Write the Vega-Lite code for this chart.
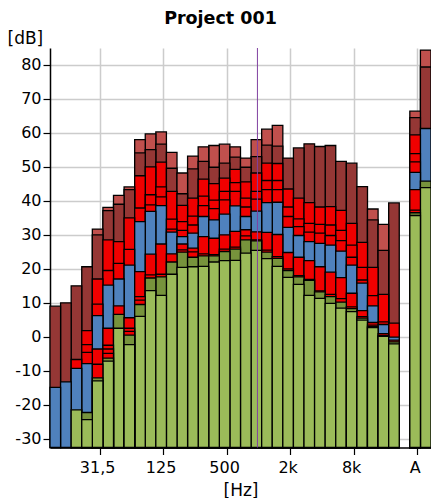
{
  "$schema": "https://vega.github.io/schema/vega-lite/v6.json",
  "width": 381,
  "height": 399.5,
  "autosize": {"type": "none"},
  "padding": {"left": 50, "top": 48, "right": 0, "bottom": 50.5},
  "background": "white",
  "title": {"text": "Project 001", "font": "DejaVu Sans", "fontSize": 17.5, "fontWeight": "bold", "color": "black", "anchor": "middle", "frame": "group", "dx": -20, "dy": 18, "baseline": "alphabetic", "offset": 6},
  "config": {"view": {"stroke": null}, "font": "DejaVu Sans"},
  "datasets": {
    "levels": [
      {"f": "12.5", "c": "D", "v": 9.0}, {"f": "12.5", "c": "B", "v": -14.9},
      {"f": "16", "c": "D", "v": 10.0}, {"f": "16", "c": "B", "v": -13.3},
      {"f": "20", "c": "D", "v": 15.0}, {"f": "20", "c": "R", "v": -6.7}, {"f": "20", "c": "B", "v": -9.3}, {"f": "20", "c": "G", "v": -21.5},
      {"f": "25", "c": "D", "v": 20.6}, {"f": "25", "c": "R", "v": 1.8}, {"f": "25", "c": "R", "v": -2.3}, {"f": "25", "c": "R", "v": -4.6}, {"f": "25", "c": "B", "v": -7.9}, {"f": "25", "c": "O", "v": -22.3}, {"f": "25", "c": "G", "v": -24.4},
      {"f": "31,5", "c": "S", "v": 31.7}, {"f": "31,5", "c": "D", "v": 30.0}, {"f": "31,5", "c": "R", "v": 17.0}, {"f": "31,5", "c": "R", "v": 9.6}, {"f": "31,5", "c": "B", "v": 6.2}, {"f": "31,5", "c": "R", "v": -3.6}, {"f": "31,5", "c": "R", "v": -8.1}, {"f": "31,5", "c": "O", "v": -12.1}, {"f": "31,5", "c": "G", "v": -13.0},
      {"f": "40", "c": "S", "v": 38.1}, {"f": "40", "c": "D", "v": 37.1}, {"f": "40", "c": "R", "v": 28.5}, {"f": "40", "c": "R", "v": 19.5}, {"f": "40", "c": "B", "v": 15.2}, {"f": "40", "c": "R", "v": 2.5}, {"f": "40", "c": "R", "v": -2.5}, {"f": "40", "c": "R", "v": -3.6}, {"f": "40", "c": "R", "v": -4.9}, {"f": "40", "c": "O", "v": -6.3}, {"f": "40", "c": "G", "v": -7.2},
      {"f": "50", "c": "S", "v": 41.6}, {"f": "50", "c": "D", "v": 39.0}, {"f": "50", "c": "R", "v": 28.0}, {"f": "50", "c": "R", "v": 21.6}, {"f": "50", "c": "B", "v": 17.0}, {"f": "50", "c": "R", "v": 9.1}, {"f": "50", "c": "O", "v": 6.6}, {"f": "50", "c": "G", "v": 2.5},
      {"f": "63", "c": "S", "v": 44.1}, {"f": "63", "c": "D", "v": 43.3}, {"f": "63", "c": "R", "v": 35.0}, {"f": "63", "c": "R", "v": 25.7}, {"f": "63", "c": "B", "v": 21.1}, {"f": "63", "c": "R", "v": 5.6}, {"f": "63", "c": "R", "v": 2.5}, {"f": "63", "c": "R", "v": 1.6}, {"f": "63", "c": "O", "v": 0.5}, {"f": "63", "c": "G", "v": -2.3},
      {"f": "80", "c": "S", "v": 58.0}, {"f": "80", "c": "D", "v": 54.1}, {"f": "80", "c": "R", "v": 47.4}, {"f": "80", "c": "R", "v": 37.9}, {"f": "80", "c": "B", "v": 33.9}, {"f": "80", "c": "R", "v": 19.2}, {"f": "80", "c": "R", "v": 11.8}, {"f": "80", "c": "R", "v": 10.8}, {"f": "80", "c": "O", "v": 9.5}, {"f": "80", "c": "G", "v": 6.0},
      {"f": "100", "c": "S", "v": 59.7}, {"f": "100", "c": "D", "v": 55.1}, {"f": "100", "c": "R", "v": 50.0}, {"f": "100", "c": "R", "v": 41.8}, {"f": "100", "c": "R", "v": 38.8}, {"f": "100", "c": "B", "v": 36.9}, {"f": "100", "c": "R", "v": 24.3}, {"f": "100", "c": "R", "v": 18.2}, {"f": "100", "c": "O", "v": 17.3}, {"f": "100", "c": "G", "v": 13.6},
      {"f": "125", "c": "S", "v": 60.3}, {"f": "125", "c": "D", "v": 56.7}, {"f": "125", "c": "R", "v": 51.4}, {"f": "125", "c": "R", "v": 44.1}, {"f": "125", "c": "R", "v": 41.2}, {"f": "125", "c": "B", "v": 38.6}, {"f": "125", "c": "R", "v": 27.3}, {"f": "125", "c": "R", "v": 18.4}, {"f": "125", "c": "O", "v": 17.6}, {"f": "125", "c": "G", "v": 12.2},
      {"f": "160", "c": "S", "v": 54.3}, {"f": "160", "c": "D", "v": 49.6}, {"f": "160", "c": "R", "v": 42.8}, {"f": "160", "c": "R", "v": 34.6}, {"f": "160", "c": "R", "v": 31.7}, {"f": "160", "c": "B", "v": 30.8}, {"f": "160", "c": "R", "v": 24.4}, {"f": "160", "c": "O", "v": 22.0}, {"f": "160", "c": "G", "v": 18.4},
      {"f": "200", "c": "S", "v": 48.2}, {"f": "200", "c": "D", "v": 42.1}, {"f": "200", "c": "R", "v": 38.7}, {"f": "200", "c": "R", "v": 33.9}, {"f": "200", "c": "R", "v": 31.3}, {"f": "200", "c": "B", "v": 29.5}, {"f": "200", "c": "R", "v": 27.3}, {"f": "200", "c": "R", "v": 25.6}, {"f": "200", "c": "O", "v": 24.9}, {"f": "200", "c": "G", "v": 20.4},
      {"f": "250", "c": "S", "v": 53.2}, {"f": "250", "c": "D", "v": 49.4}, {"f": "250", "c": "R", "v": 40.8}, {"f": "250", "c": "R", "v": 35.5}, {"f": "250", "c": "R", "v": 32.9}, {"f": "250", "c": "B", "v": 30.5}, {"f": "250", "c": "R", "v": 26.1}, {"f": "250", "c": "R", "v": 25.0}, {"f": "250", "c": "O", "v": 23.4}, {"f": "250", "c": "G", "v": 20.6},
      {"f": "315", "c": "S", "v": 55.9}, {"f": "315", "c": "D", "v": 51.6}, {"f": "315", "c": "R", "v": 46.4}, {"f": "315", "c": "R", "v": 41.4}, {"f": "315", "c": "R", "v": 38.6}, {"f": "315", "c": "B", "v": 35.4}, {"f": "315", "c": "R", "v": 29.5}, {"f": "315", "c": "R", "v": 24.4}, {"f": "315", "c": "O", "v": 23.8}, {"f": "315", "c": "G", "v": 20.7},
      {"f": "400", "c": "S", "v": 56.3}, {"f": "400", "c": "D", "v": 49.9}, {"f": "400", "c": "R", "v": 45.1}, {"f": "400", "c": "R", "v": 40.2}, {"f": "400", "c": "R", "v": 37.7}, {"f": "400", "c": "B", "v": 34.4}, {"f": "400", "c": "R", "v": 29.0}, {"f": "400", "c": "R", "v": 24.2}, {"f": "400", "c": "O", "v": 23.8}, {"f": "400", "c": "G", "v": 22.0},
      {"f": "500", "c": "S", "v": 56.7}, {"f": "500", "c": "D", "v": 51.1}, {"f": "500", "c": "R", "v": 46.7}, {"f": "500", "c": "R", "v": 42.8}, {"f": "500", "c": "R", "v": 40.3}, {"f": "500", "c": "B", "v": 36.1}, {"f": "500", "c": "R", "v": 30.0}, {"f": "500", "c": "R", "v": 25.8}, {"f": "500", "c": "O", "v": 25.1}, {"f": "500", "c": "G", "v": 22.4},
      {"f": "630", "c": "S", "v": 55.9}, {"f": "630", "c": "D", "v": 52.9}, {"f": "630", "c": "R", "v": 49.3}, {"f": "630", "c": "R", "v": 45.4}, {"f": "630", "c": "R", "v": 42.8}, {"f": "630", "c": "B", "v": 38.5}, {"f": "630", "c": "R", "v": 31.0}, {"f": "630", "c": "R", "v": 26.4}, {"f": "630", "c": "O", "v": 25.8}, {"f": "630", "c": "G", "v": 22.5},
      {"f": "800", "c": "S", "v": 52.6}, {"f": "800", "c": "D", "v": 49.9}, {"f": "800", "c": "R", "v": 45.6}, {"f": "800", "c": "R", "v": 40.8}, {"f": "800", "c": "R", "v": 38.2}, {"f": "800", "c": "B", "v": 35.4}, {"f": "800", "c": "R", "v": 31.5}, {"f": "800", "c": "R", "v": 29.7}, {"f": "800", "c": "O", "v": 28.5}, {"f": "800", "c": "G", "v": 24.6},
      {"f": "1k", "c": "S", "v": 58.0}, {"f": "1k", "c": "D", "v": 53.0}, {"f": "1k", "c": "R", "v": 48.2}, {"f": "1k", "c": "R", "v": 42.8}, {"f": "1k", "c": "R", "v": 40.5}, {"f": "1k", "c": "B", "v": 37.0}, {"f": "1k", "c": "R", "v": 30.9}, {"f": "1k", "c": "R", "v": 28.5}, {"f": "1k", "c": "O", "v": 28.2}, {"f": "1k", "c": "G", "v": 25.4},
      {"f": "1.25k", "c": "S", "v": 61.1}, {"f": "1.25k", "c": "D", "v": 56.4}, {"f": "1.25k", "c": "R", "v": 51.1}, {"f": "1.25k", "c": "R", "v": 46.0}, {"f": "1.25k", "c": "R", "v": 43.3}, {"f": "1.25k", "c": "B", "v": 39.5}, {"f": "1.25k", "c": "R", "v": 30.7}, {"f": "1.25k", "c": "R", "v": 25.5}, {"f": "1.25k", "c": "O", "v": 24.9}, {"f": "1.25k", "c": "G", "v": 23.0},
      {"f": "1.6k", "c": "S", "v": 62.2}, {"f": "1.6k", "c": "D", "v": 56.1}, {"f": "1.6k", "c": "R", "v": 51.0}, {"f": "1.6k", "c": "R", "v": 46.0}, {"f": "1.6k", "c": "R", "v": 43.3}, {"f": "1.6k", "c": "B", "v": 39.6}, {"f": "1.6k", "c": "R", "v": 30.1}, {"f": "1.6k", "c": "R", "v": 23.6}, {"f": "1.6k", "c": "O", "v": 23.1}, {"f": "1.6k", "c": "G", "v": 20.7},
      {"f": "2k", "c": "D", "v": 52.6}, {"f": "2k", "c": "R", "v": 43.5}, {"f": "2k", "c": "R", "v": 38.2}, {"f": "2k", "c": "R", "v": 35.4}, {"f": "2k", "c": "B", "v": 32.2}, {"f": "2k", "c": "R", "v": 24.8}, {"f": "2k", "c": "R", "v": 20.0}, {"f": "2k", "c": "O", "v": 19.5}, {"f": "2k", "c": "G", "v": 17.5},
      {"f": "2.5k", "c": "D", "v": 55.6}, {"f": "2.5k", "c": "R", "v": 40.8}, {"f": "2.5k", "c": "R", "v": 34.7}, {"f": "2.5k", "c": "R", "v": 32.4}, {"f": "2.5k", "c": "B", "v": 29.8}, {"f": "2.5k", "c": "R", "v": 23.4}, {"f": "2.5k", "c": "R", "v": 18.0}, {"f": "2.5k", "c": "O", "v": 17.6}, {"f": "2.5k", "c": "G", "v": 15.4},
      {"f": "3.15k", "c": "D", "v": 56.8}, {"f": "3.15k", "c": "R", "v": 39.5}, {"f": "3.15k", "c": "R", "v": 33.4}, {"f": "3.15k", "c": "R", "v": 30.8}, {"f": "3.15k", "c": "B", "v": 28.0}, {"f": "3.15k", "c": "R", "v": 22.4}, {"f": "3.15k", "c": "R", "v": 16.9}, {"f": "3.15k", "c": "O", "v": 16.6}, {"f": "3.15k", "c": "G", "v": 12.2},
      {"f": "4k", "c": "D", "v": 56.0}, {"f": "4k", "c": "R", "v": 38.2}, {"f": "4k", "c": "R", "v": 33.1}, {"f": "4k", "c": "R", "v": 30.5}, {"f": "4k", "c": "B", "v": 27.5}, {"f": "4k", "c": "R", "v": 20.6}, {"f": "4k", "c": "R", "v": 13.5}, {"f": "4k", "c": "O", "v": 13.2}, {"f": "4k", "c": "G", "v": 11.3},
      {"f": "5k", "c": "D", "v": 56.3}, {"f": "5k", "c": "R", "v": 38.3}, {"f": "5k", "c": "R", "v": 32.9}, {"f": "5k", "c": "R", "v": 29.8}, {"f": "5k", "c": "B", "v": 27.0}, {"f": "5k", "c": "R", "v": 19.0}, {"f": "5k", "c": "R", "v": 12.5}, {"f": "5k", "c": "O", "v": 11.8}, {"f": "5k", "c": "G", "v": 9.8},
      {"f": "6.3k", "c": "D", "v": 51.6}, {"f": "6.3k", "c": "R", "v": 37.2}, {"f": "6.3k", "c": "R", "v": 31.3}, {"f": "6.3k", "c": "R", "v": 28.3}, {"f": "6.3k", "c": "B", "v": 25.2}, {"f": "6.3k", "c": "R", "v": 17.4}, {"f": "6.3k", "c": "R", "v": 11.2}, {"f": "6.3k", "c": "O", "v": 10.2}, {"f": "6.3k", "c": "G", "v": 8.4},
      {"f": "8k", "c": "D", "v": 51.1}, {"f": "8k", "c": "R", "v": 33.4}, {"f": "8k", "c": "R", "v": 27.0}, {"f": "8k", "c": "R", "v": 23.4}, {"f": "8k", "c": "B", "v": 21.1}, {"f": "8k", "c": "R", "v": 12.8}, {"f": "8k", "c": "R", "v": 8.8}, {"f": "8k", "c": "O", "v": 8.3}, {"f": "8k", "c": "G", "v": 7.4},
      {"f": "10k", "c": "D", "v": 44.2}, {"f": "10k", "c": "R", "v": 27.8}, {"f": "10k", "c": "R", "v": 20.4}, {"f": "10k", "c": "R", "v": 16.7}, {"f": "10k", "c": "B", "v": 15.8}, {"f": "10k", "c": "R", "v": 7.7}, {"f": "10k", "c": "R", "v": 5.9}, {"f": "10k", "c": "O", "v": 5.5}, {"f": "10k", "c": "G", "v": 4.9},
      {"f": "12.5k", "c": "S", "v": 37.6}, {"f": "12.5k", "c": "D", "v": 34.4}, {"f": "12.5k", "c": "R", "v": 20.4}, {"f": "12.5k", "c": "R", "v": 12.1}, {"f": "12.5k", "c": "B", "v": 9.1}, {"f": "12.5k", "c": "R", "v": 4.2}, {"f": "12.5k", "c": "R", "v": 3.4}, {"f": "12.5k", "c": "O", "v": 3.0}, {"f": "12.5k", "c": "G", "v": 2.7},
      {"f": "16k", "c": "S", "v": 33.1}, {"f": "16k", "c": "D", "v": 25.4}, {"f": "16k", "c": "R", "v": 12.5}, {"f": "16k", "c": "R", "v": 4.4}, {"f": "16k", "c": "B", "v": 3.6}, {"f": "16k", "c": "R", "v": 0.9}, {"f": "16k", "c": "O", "v": 0.4}, {"f": "16k", "c": "G", "v": 0.1},
      {"f": "20k", "c": "D", "v": 39.4}, {"f": "20k", "c": "R", "v": 4.0}, {"f": "20k", "c": "B", "v": -0.1}, {"f": "20k", "c": "R", "v": -1.0}, {"f": "20k", "c": "O", "v": -1.5}, {"f": "20k", "c": "G", "v": -2.1},
      {"f": "A", "c": "S", "v": 66.4}, {"f": "A", "c": "D", "v": 64.5}, {"f": "A", "c": "R", "v": 59.4}, {"f": "A", "c": "R", "v": 53.9}, {"f": "A", "c": "R", "v": 51.5}, {"f": "A", "c": "B", "v": 48.4}, {"f": "A", "c": "R", "v": 43.3}, {"f": "A", "c": "R", "v": 37.3}, {"f": "A", "c": "O", "v": 36.5}, {"f": "A", "c": "G", "v": 35.7},
      {"f": "Lin", "c": "S", "v": 84.4}, {"f": "Lin", "c": "D", "v": 79.4}, {"f": "Lin", "c": "B", "v": 61.3}, {"f": "Lin", "c": "O", "v": 45.8}, {"f": "Lin", "c": "G", "v": 43.9}
    ],
    "marker": [{"f": "1k"}]
  },
  "layer": [
    {
      "data": {"name": "levels"},
      "mark": {"type": "bar", "stroke": "black", "strokeWidth": 1.3},
      "encoding": {
        "x": {
          "field": "f", "type": "nominal",
          "scale": {"domain": ["12.5","16","20","25","31,5","40","50","63","80","100","125","160","200","250","315","400","500","630","800","1k","1.25k","1.6k","2k","2.5k","3.15k","4k","5k","6.3k","8k","10k","12.5k","16k","20k"," ","A","Lin"], "paddingInner": 0, "paddingOuter": 0},
          "axis": {
            "values": ["31,5","125","500","2k","8k","A"],
            "bandPosition": 0.75,
            "title": "[Hz]", "titleFont": "DejaVu Sans", "titleFontSize": 17, "titleFontWeight": "normal", "titleColor": "black", "titleBaseline": "alphabetic", "titleY": 47.5,
            "labelFont": "DejaVu Sans", "labelFontSize": 16, "labelColor": "black", "labelAngle": 0, "labelBaseline": "alphabetic", "labelPadding": 18,
            "tickSize": 7, "tickColor": "black", "tickWidth": 1.2,
            "domainColor": "black", "domainWidth": 1.5,
            "grid": true, "gridColor": "#cccccc", "gridWidth": 1.5
          }
        },
        "y": {
          "field": "v", "type": "quantitative",
          "scale": {"domain": [-32.6, 85], "nice": false, "zero": false},
          "axis": {
            "values": [-30,-20,-10,0,10,20,30,40,50,60,70,80],
            "labelExpr": "datum.value < 0 ? '-' + abs(datum.value) : '' + datum.value",
            "title": "[dB]", "titleFont": "DejaVu Sans", "titleFontSize": 17, "titleFontWeight": "normal", "titleColor": "black", "titleAngle": 0, "titleAlign": "left", "titleBaseline": "alphabetic", "titleX": -43, "titleY": -4.5,
            "labelFont": "DejaVu Sans", "labelFontSize": 16, "labelColor": "black", "labelPadding": 2,
            "tickSize": 7, "tickColor": "black", "tickWidth": 1.2,
            "domainColor": "black", "domainWidth": 1.5,
            "grid": true, "gridColor": "#cccccc", "gridWidth": 1.5
          }
        },
        "y2": {"datum": -32.6},
        "color": {
          "field": "c", "type": "nominal",
          "scale": {"domain": ["G","O","R","B","D","S"], "range": ["#9bbb59","#77933c","#f00000","#4f81bd","#953735","#c0504d"]},
          "legend": null
        },
        "order": {"field": "v", "sort": "descending"}
      }
    },
    {
      "data": {"name": "marker"},
      "mark": {"type": "rule", "color": "#8040a0", "strokeWidth": 1},
      "encoding": {
        "x": {
          "field": "f", "type": "nominal", "bandPosition": 0.6,
          "scale": {"domain": ["12.5","16","20","25","31,5","40","50","63","80","100","125","160","200","250","315","400","500","630","800","1k","1.25k","1.6k","2k","2.5k","3.15k","4k","5k","6.3k","8k","10k","12.5k","16k","20k"," ","A","Lin"], "paddingInner": 0, "paddingOuter": 0}
        }
      }
    }
  ]
}
